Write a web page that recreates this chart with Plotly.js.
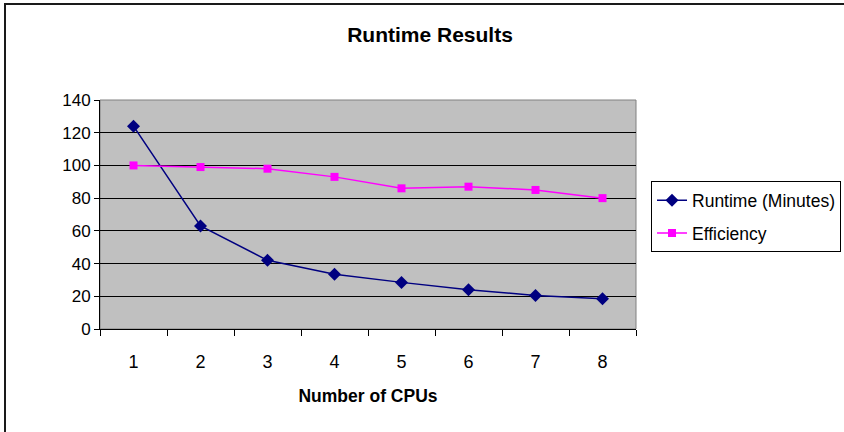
<!DOCTYPE html>
<html>
<head>
<meta charset="utf-8">
<script src="https://cdn.plot.ly/plotly-3.0.1.min.js"></script>
<style>
  html, body { margin: 0; padding: 0; background: #fff; }
  #wrap { position: relative; width: 844px; height: 432px; overflow: hidden; }
  #chart { width: 844px; height: 432px; }
  #frame { position: absolute; left: 4px; top: 3px; width: 900px; height: 500px;
           border-left: 2px solid #1a1a1a; border-top: 2px solid #1a1a1a; pointer-events: none; }
</style>
</head>
<body>
<div id="wrap">
  <div id="chart"></div>
  <div id="frame"></div>
</div>
<script>
const cpus = ['1', '2', '3', '4', '5', '6', '7', '8'];
const runtimeMinutes = [124, 63, 42, 33.5, 28.5, 24, 20.5, 18.5];
const efficiency = [100, 99, 98, 93, 86, 87, 85, 80];

const fontFam = 'Liberation Sans, Arial, sans-serif';

const traces = [
  {
    x: cpus, y: runtimeMinutes, name: 'Runtime (Minutes)', type: 'scatter', mode: 'lines+markers',
    line: { color: '#000080', width: 1.5 },
    marker: { symbol: 'diamond', size: 10, color: '#000080' },
    legendgroup: 'a'
  },
  {
    x: cpus, y: efficiency, name: 'Efficiency', type: 'scatter', mode: 'lines+markers',
    line: { color: '#FF00FF', width: 1.5 },
    marker: { symbol: 'square', size: 8, color: '#FF00FF' },
    legendgroup: 'b'
  }
];

const layout = {
  width: 844, height: 432,
  margin: { l: 100, r: 208, t: 100, b: 103, autoexpand: false },
  paper_bgcolor: '#ffffff',
  plot_bgcolor: '#C0C0C0',
  font: { family: fontFam, size: 17, color: '#000' },
  title: {
    text: '<b>Runtime Results</b>',
    font: { family: fontFam, size: 21, color: '#000' },
    xref: 'container', yref: 'container', x: 0.5095, y: 0.919,
    xanchor: 'center', yanchor: 'middle'
  },
  xaxis: {
    type: 'category',
    range: [-0.5, 7.5],
    showgrid: false,
    zeroline: false,
    showline: true, linecolor: '#000', linewidth: 1,
    ticks: 'outside', ticklen: 6, tickcolor: '#000', tickwidth: 1,
    tickson: 'boundaries',
    ticklabelstandoff: 16,
    tickfont: { family: fontFam, size: 18 },
    title: { text: '<b>Number of CPUs</b>', font: { family: fontFam, size: 17.5 }, standoff: 19 }
  },
  yaxis: {
    range: [0, 140],
    dtick: 20,
    showgrid: true, gridcolor: '#000', gridwidth: 1,
    zeroline: false,
    showline: true, linecolor: '#000', linewidth: 1,
    ticks: 'outside', ticklen: 5, tickcolor: '#000', tickwidth: 1,
    tickfont: { family: fontFam, size: 17 }
  },
  shapes: [
    { type: 'rect', xref: 'paper', yref: 'paper', x0: 0, x1: 1, y0: 0, y1: 1,
      line: { color: '#808080', width: 1 }, layer: 'below' }
  ],
  showlegend: true,
  legend: {
    x: 1.028, xref: 'paper', xanchor: 'left',
    y: 0.645, yanchor: 'top',
    bgcolor: '#ffffff', bordercolor: '#000', borderwidth: 1,
    font: { family: fontFam, size: 17.5 },
    traceorder: 'grouped', tracegroupgap: 7
  }
};

Plotly.newPlot('chart', traces, layout, { displayModeBar: false, staticPlot: true });
</script>
</body>
</html>
